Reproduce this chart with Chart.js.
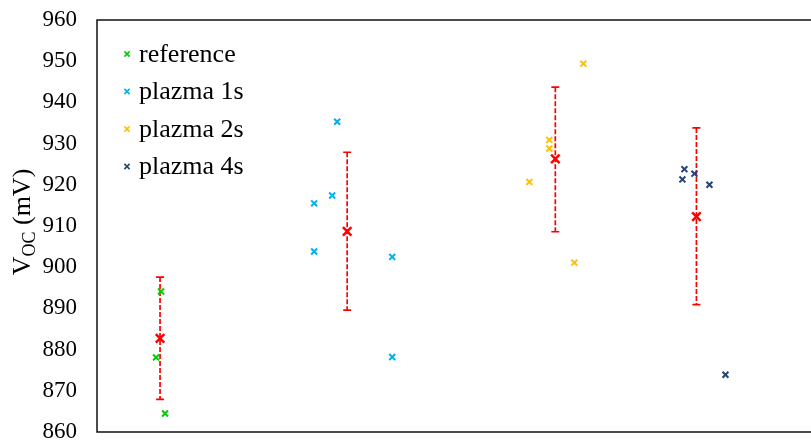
<!DOCTYPE html>
<html>
<head>
<meta charset="utf-8">
<script src="https://cdn.jsdelivr.net/npm/chart.js@4/dist/chart.umd.min.js"></script>
<style>
  html, body { margin: 0; padding: 0; background: #fff; overflow: hidden; }
  #wrap { width: 811px; height: 443px; position: relative; }
  #myChart { display: block; }
</style>
</head>
<body>
<div id="wrap"><canvas id="myChart"></canvas></div>
<script>
// series names + colours
const seriesNames = ["reference", "plazma 1s", "plazma 2s", "plazma 4s"];
const seriesColors = ["#00CC00", "#00B0F0", "#FFC000", "#264478"];

// individual measurements (x = position along the unlabeled axis)
const refX = [0.64, 0.59, 0.68];
const refY = [894.1, 878.1, 864.5];
const p1X = [2.40, 2.35, 2.17, 2.17, 2.95, 2.95];
const p1Y = [935.3, 917.4, 915.5, 903.8, 902.5, 878.2];
const p2X = [4.86, 4.52, 4.52, 4.32, 4.77];
const p2Y = [949.4, 930.9, 928.8, 920.7, 901.1];
const p4X = [5.87, 5.85, 5.97, 6.12, 6.28];
const p4Y = [923.8, 921.3, 922.7, 920.0, 873.9];

// mean + error bars
const meanX = [0.63, 2.50, 4.58, 5.99];
const meanY = [882.7, 908.7, 926.3, 912.3];
const errHigh = [897.6, 927.9, 943.7, 933.8];
const errLow = [867.9, 889.6, 908.6, 890.9];

// y axis
const yMin = 860;
const yMax = 960;
const yStep = 10;

const FONT = "'Liberation Serif', 'Times New Roman', serif";

const toPoints = (xs, ys) => xs.map((x, i) => ({ x: x, y: ys[i] }));
const allX = [refX, p1X, p2X, p4X];
const allY = [refY, p1Y, p2Y, p4Y];

const scatterSets = seriesNames.map((name, i) => ({
  type: "scatter",
  label: name,
  data: toPoints(allX[i], allY[i]),
  pointStyle: "crossRot",
  pointRadius: 4.2,
  pointBorderWidth: 2,
  borderColor: seriesColors[i],
  backgroundColor: seriesColors[i],
  order: 2,
}));

const errorSets = meanX.map((x, i) => ({
  type: "line",
  label: "err" + i,
  data: [{ x: x, y: errHigh[i] }, { x: x, y: errLow[i] }],
  borderColor: "#FF0000",
  borderWidth: 1.7,
  borderDash: [5, 2],
  pointStyle: "line",
  pointRadius: 4,
  pointBorderWidth: 1.7,
  pointBorderColor: "#FF0000",
  fill: false,
  order: 3,
}));

const meanSet = {
  type: "scatter",
  label: "mean",
  data: toPoints(meanX, meanY),
  pointStyle: "crossRot",
  pointRadius: 6,
  pointBorderWidth: 2.5,
  borderColor: "#FF0000",
  backgroundColor: "#FF0000",
  order: 1,
};

// frame lines (top, left, bottom) - no right side in the original
const framePlugin = {
  id: "frame",
  afterDraw(chart) {
    const { ctx, chartArea: a } = chart;
    ctx.save();
    ctx.strokeStyle = "#111";
    ctx.lineWidth = 1.5;
    ctx.beginPath();
    ctx.moveTo(chart.width, a.top);
    ctx.lineTo(a.left, a.top);
    ctx.lineTo(a.left, a.bottom);
    ctx.lineTo(chart.width, a.bottom);
    ctx.stroke();
    ctx.restore();
  },
};

// legend inside the plot, top-left
const legendPlugin = {
  id: "insideLegend",
  afterDraw(chart) {
    const { ctx } = chart;
    ctx.save();
    seriesNames.forEach((name, i) => {
      const y = 54 + i * 37.5;
      const x = 127;
      const r = 2.6;
      ctx.strokeStyle = seriesColors[i];
      ctx.lineWidth = 1.6;
      ctx.beginPath();
      ctx.moveTo(x - r, y - r);
      ctx.lineTo(x + r, y + r);
      ctx.moveTo(x + r, y - r);
      ctx.lineTo(x - r, y + r);
      ctx.stroke();
      ctx.fillStyle = "#000";
      ctx.font = "26px " + FONT;
      ctx.textBaseline = "middle";
      ctx.fillText(name, 139, y + 1);
    });
    ctx.restore();
  },
};

// rotated y axis title with subscript: V_OC (mV)
const yTitlePlugin = {
  id: "yTitle",
  afterDraw(chart) {
    const { ctx } = chart;
    const big = "26px " + FONT;
    const small = "18px " + FONT;
    ctx.save();
    ctx.font = big;
    const wV = ctx.measureText("V").width;
    const wRest = ctx.measureText(" (mV)").width;
    ctx.font = small;
    const wSub = ctx.measureText("OC").width;
    const total = wV + wSub + wRest;
    ctx.translate(30, 222);
    ctx.rotate(-Math.PI / 2);
    ctx.fillStyle = "#000";
    ctx.textBaseline = "alphabetic";
    let x = -total / 2;
    ctx.font = big;
    ctx.fillText("V", x, 0);
    x += wV;
    ctx.font = small;
    ctx.fillText("OC", x, 5);
    x += wSub;
    ctx.font = big;
    ctx.fillText(" (mV)", x, 0);
    ctx.restore();
  },
};

const ctx = document.getElementById("myChart").getContext("2d");
new Chart(ctx, {
  type: "scatter",
  data: {
    datasets: [...scatterSets, meanSet, ...errorSets],
  },
  options: {
    responsive: true,
    maintainAspectRatio: false,
    animation: false,
    layout: {
      padding: { left: 0, top: 20, right: 0, bottom: 11 },
    },
    plugins: {
      legend: { display: false },
      tooltip: { enabled: false },
    },
    scales: {
      x: {
        type: "linear",
        min: 0,
        max: 7.05,
        display: false,
      },
      y: {
        min: yMin,
        max: yMax,
        grid: { display: false, drawTicks: false },
        border: { display: false },
        ticks: {
          stepSize: yStep,
          color: "#000",
          padding: 20,
          font: { family: FONT, size: 23 },
        },
        afterFit: (scale) => {
          scale.width = 97;
          scale.paddingTop = 0;
          scale.paddingBottom = 0;
        },
      },
    },
  },
  plugins: [framePlugin, legendPlugin, yTitlePlugin],
});
</script>
</body>
</html>
